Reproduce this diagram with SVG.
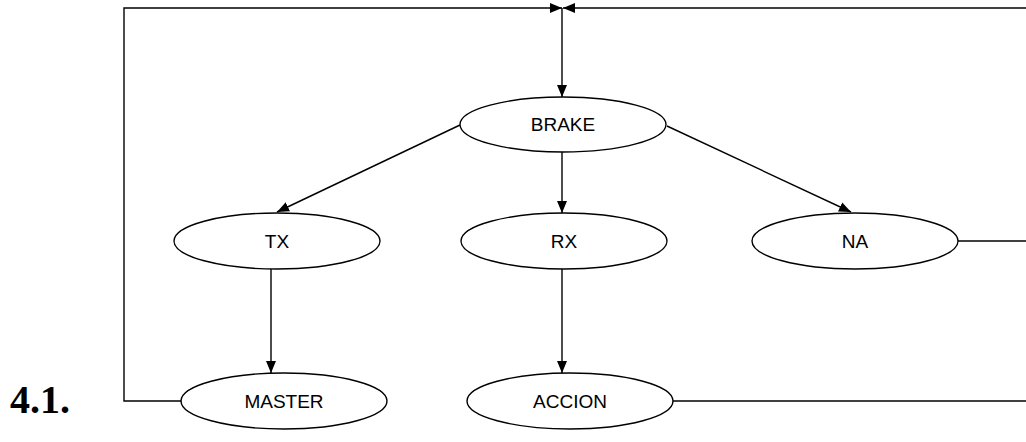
<svg xmlns="http://www.w3.org/2000/svg" width="1026" height="442" viewBox="0 0 1026 442">
<defs>
<marker id="ah" viewBox="0 0 12 10" refX="12" refY="5" markerWidth="12" markerHeight="10" markerUnits="userSpaceOnUse" orient="auto">
<path d="M0,0 L12,5 L0,10 Z" fill="#000"/>
</marker>
</defs>
<style>
.n ellipse{fill:#fff;stroke:#000;stroke-width:1.4}
.n text{font-family:"Liberation Sans",Arial,sans-serif;font-size:19px;text-anchor:middle;fill:#000}
#edges line,#edges polyline{stroke:#000;stroke-width:1.4;fill:none}
.a{marker-end:url(#ah)}
</style>
<rect width="1026" height="442" fill="#fff"/>
<g id="edges">
<polyline points="181,401 124,401 124,8 562,8" class="a"/>
<polyline points="1026,8 563,8" class="a"/>
<line x1="562" y1="8" x2="562" y2="97" class="a"/>
<line x1="460" y1="125" x2="277" y2="212" class="a"/>
<line x1="562" y1="152" x2="562" y2="213" class="a"/>
<line x1="667" y1="126" x2="851" y2="212" class="a"/>
<line x1="271" y1="269" x2="271" y2="373" class="a"/>
<line x1="562" y1="269" x2="562" y2="373" class="a"/>
<line x1="958" y1="241" x2="1026" y2="241"/>
<line x1="673" y1="401" x2="1026" y2="401"/>
</g>
<g id="brake" class="n"><ellipse cx="563" cy="124.5" rx="103" ry="27.5"/><text x="563" y="131">BRAKE</text></g>
<g id="tx" class="n"><ellipse cx="277" cy="241" rx="103" ry="28"/><text x="277" y="248">TX</text></g>
<g id="rx" class="n"><ellipse cx="564" cy="241" rx="103" ry="28"/><text x="564" y="248">RX</text></g>
<g id="na" class="n"><ellipse cx="855" cy="241" rx="103" ry="28"/><text x="855" y="248">NA</text></g>
<g id="master" class="n"><ellipse cx="284" cy="401" rx="103" ry="28"/><text x="284" y="408">MASTER</text></g>
<g id="accion" class="n"><ellipse cx="570" cy="401" rx="103" ry="28"/><text x="570" y="408">ACCION</text></g>
<text x="10" y="413" font-family="Liberation Serif,'Times New Roman',serif" font-weight="bold" font-size="40">4.1.</text>
</svg>
